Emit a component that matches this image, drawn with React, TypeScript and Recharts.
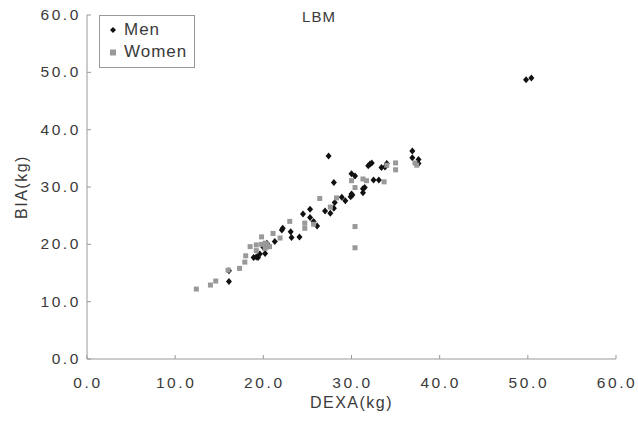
import { ScatterChart, Scatter, XAxis, YAxis } from 'recharts';

const xTicks = [0, 10, 20, 30, 40, 50, 60];
const yTicks = [0, 10, 20, 30, 40, 50, 60];

const menDexa = [
  16.1, 16.1, 18.9, 19.2, 19.4, 19.6, 20.0, 20.2, 20.4, 20.6, 21.3, 22.1, 22.2, 23.1, 23.2, 24.1,
  24.5, 25.3, 25.3, 25.7, 26.1, 27.0, 27.6, 28.0, 28.1, 28.9, 29.3, 29.9, 30.0, 30.1, 31.3, 31.3,
  31.5, 28.0, 27.4, 30.0, 30.4, 32.5, 33.1, 31.9, 32.1, 32.3, 33.4, 33.8, 34.0, 36.9, 36.9, 37.6,
  37.6, 49.8, 50.4,
];
const menBia = [
  15.4, 13.5, 17.7, 17.8, 17.7, 18.3, 19.5, 18.4, 20.2, 19.7, 20.5, 22.5, 22.8, 22.2, 21.2, 21.3,
  25.3, 26.1, 24.7, 24.0, 23.2, 25.8, 25.4, 26.3, 27.3, 28.2, 27.6, 28.3, 28.8, 28.6, 29.7, 29.0,
  29.9, 30.8, 35.4, 32.3, 31.9, 31.2, 31.2, 33.7, 34.0, 34.2, 33.4, 33.5, 34.1, 36.3, 35.1, 34.8,
  34.1, 48.7, 49.0,
];

const womenDexa = [
  12.4, 14.0, 14.6, 16.0, 17.3, 17.9, 18.0, 18.5, 19.2, 19.2, 19.8, 19.8, 20.2, 20.2, 20.4, 20.7,
  21.1, 21.9, 23.0, 24.7, 24.7, 25.7, 26.4, 27.6, 28.3, 30.0, 30.4, 31.3, 31.7, 33.7, 34.0, 35.0,
  35.0, 37.2, 37.4, 30.4, 30.4,
];
const womenBia = [
  12.2, 12.9, 13.6, 15.5, 15.8, 16.9, 18.0, 19.6, 18.9, 19.9, 21.3, 20.0, 19.3, 20.2, 20.0, 19.6,
  21.9, 21.1, 24.0, 23.7, 22.8, 23.5, 28.0, 26.5, 28.1, 31.1, 29.9, 31.4, 31.1, 30.9, 33.8, 34.2,
  33.0, 34.2, 33.8, 23.1, 19.4,
];

const men = menDexa.map((x, i) => ({ x, y: menBia[i] }));
const women = womenDexa.map((x, i) => ({ x, y: womenBia[i] }));

const FONT = '"Liberation Sans", Arial, sans-serif';
const TEXT = '#3a3a3a';
const AXIS = '#999';

const Diamond = ({ cx, cy }: any) => (
  <polygon
    points={`${cx},${cy - 3.5} ${cx + 3},${cy} ${cx},${cy + 3.5} ${cx - 3},${cy}`}
    fill="#111"
  />
);

const Square = ({ cx, cy }: any) => (
  <rect x={cx - 2.5} y={cy - 2.5} width={5} height={5} fill="#999" />
);

const XTick = ({ x, y, payload }: any) => (
  <g>
    <line x1={x} y1={y} x2={x} y2={y - 4} stroke={AXIS} />
    <text
      x={x + 1}
      y={y + 29}
      textAnchor="middle"
      fill={TEXT}
      fontSize={15.5}
      fontFamily={FONT}
      letterSpacing={2.6}
    >
      {Number(payload.value).toFixed(1)}
    </text>
  </g>
);

const YTick = ({ x, y, payload }: any) => (
  <g>
    <line x1={x} y1={y} x2={x + 4} y2={y} stroke={AXIS} />
    <text
      x={x - 6}
      y={y + 5}
      textAnchor="end"
      fill={TEXT}
      fontSize={15.5}
      fontFamily={FONT}
      letterSpacing={2.6}
    >
      {Number(payload.value).toFixed(1)}
    </text>
  </g>
);

const LegendBox = () => (
  <div
    style={{
      position: 'absolute',
      left: 99,
      top: 15,
      border: '1px solid #999',
      width: 96,
      height: 53,
      boxSizing: 'border-box',
      fontFamily: FONT,
      fontSize: 17,
      color: TEXT,
      letterSpacing: 1,
      background: '#fff',
      paddingTop: 3,
    }}
  >
    <div style={{ display: 'flex', alignItems: 'center', height: 22 }}>
      <svg width={24} height={14}>
        <polygon points="13,4 16,7 13,10 10,7" fill="#111" />
      </svg>
      <span>Men</span>
    </div>
    <div style={{ display: 'flex', alignItems: 'center', height: 22 }}>
      <svg width={24} height={14}>
        <rect x={10} y={4.5} width={6} height={6} fill="#999" />
      </svg>
      <span>Women</span>
    </div>
  </div>
);

export default function App() {
  return (
    <div style={{ position: 'absolute', left: 0, top: 0, width: 638, height: 423, background: '#fff' }}>
      <ScatterChart width={638} height={423} margin={{ top: 15, right: 22, bottom: 0, left: 0 }}>
        <XAxis
          type="number"
          dataKey="x"
          domain={[0, 60]}
          ticks={xTicks}
          height={64}
          stroke={AXIS}
          tickLine={false}
          tickSize={0}
          tickMargin={0}
          tick={<XTick />}
        />
        <YAxis
          type="number"
          dataKey="y"
          domain={[0, 60]}
          ticks={yTicks}
          width={87}
          stroke={AXIS}
          tickLine={false}
          tickSize={0}
          tickMargin={0}
          tick={<YTick />}
        />
        <Scatter name="Men" data={men} shape={<Diamond />} isAnimationActive={false} />
        <Scatter name="Women" data={women} shape={<Square />} isAnimationActive={false} />
      </ScatterChart>
      <LegendBox />
      <div
        style={{
          position: 'absolute',
          left: 0,
          width: 638,
          top: 8,
          textAlign: 'center',
          fontFamily: FONT,
          fontSize: 15,
          color: TEXT,
          letterSpacing: 1,
        }}
      >
        LBM
      </div>
      <div
        style={{
          position: 'absolute',
          left: 87,
          width: 529,
          top: 394,
          textAlign: 'center',
          fontFamily: FONT,
          fontSize: 16,
          color: TEXT,
          letterSpacing: 1.5,
        }}
      >
        DEXA(kg)
      </div>
      <div
        style={{
          position: 'absolute',
          left: 22,
          top: 187,
          transform: 'translate(-50%, -50%) rotate(-90deg)',
          fontFamily: FONT,
          fontSize: 16,
          color: TEXT,
          letterSpacing: 1.5,
          whiteSpace: 'nowrap',
        }}
      >
        BIA(kg)
      </div>
    </div>
  );
}
